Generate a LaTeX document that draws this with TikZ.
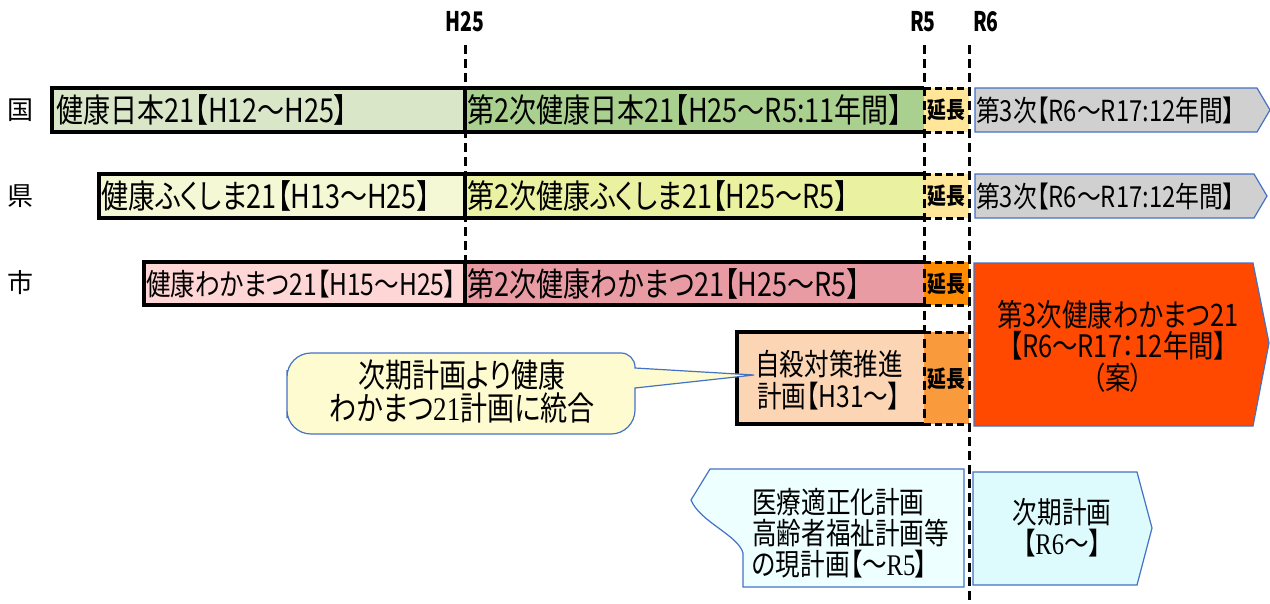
\documentclass[tikz,border=0pt]{standalone}
\usepackage{fontspec}
\setmainfont[RawFeature=+palt]{Noto Sans CJK JP}
\newfontfamily\latinserif{Liberation Serif}
\newcommand{\cnd}[1]{\scalebox{0.82}[1]{#1}}
\definecolor{kAa}{HTML}{D9E6C8}
\definecolor{kAb}{HTML}{A9D08E}
\definecolor{kBa}{HTML}{F5F8D4}
\definecolor{kBb}{HTML}{EAF1A0}
\definecolor{kCa}{HTML}{FFD6D6}
\definecolor{kCb}{HTML}{E99BA3}
\definecolor{extY}{HTML}{FFE699}
\definecolor{extO}{HTML}{FF8A00}
\definecolor{extP}{HTML}{F99B3C}
\definecolor{suic}{HTML}{FCD5B4}
\definecolor{grayA}{HTML}{D0D0D0}
\definecolor{redA}{HTML}{FF4800}
\definecolor{blueB}{HTML}{4472C4}
\definecolor{callY}{HTML}{FFFBD0}
\definecolor{cyanA}{HTML}{EEFFFF}
\definecolor{cyanB}{HTML}{DDFBFD}
\tikzset{
  vdash/.style={line width=3pt, dash pattern=on 9pt off 5pt},
  barline/.style={line width=3.5pt, line join=miter},
  extline/.style={line width=3pt, dash pattern=on 7pt off 4pt},
  thinblue/.style={draw=blueB, line width=1.2pt},
  fbar/.style={font=\fontsize{33}{36}\selectfont, inner sep=0pt},
  fbarS/.style={font=\fontsize{30}{34}\selectfont, inner sep=0pt},
  ftop/.style={font=\fontsize{27}{30}\selectfont\bfseries, inner sep=0pt},
  fext/.style={font=\fontsize{23}{24}\selectfont\bfseries, inner sep=0pt},
}
\begin{document}
\begin{tikzpicture}[x=1pt,y=-1pt]
\useasboundingbox (0,0) rectangle (1270,603);

% top labels
\node[ftop] (lH25) at (465,22) {\scalebox{0.72}[1]{H25}};
\node[ftop] (lR5) at (923,22) {\scalebox{0.72}[1]{R5}};
\node[ftop] (lR6) at (986,22) {\scalebox{0.72}[1]{R6}};

% row labels
\node[font=\fontsize{26}{28}\selectfont, inner sep=0pt] (rowA) at (20,110) {国};
\node[font=\fontsize{26}{28}\selectfont, inner sep=0pt] (rowB) at (20,196) {県};
\node[font=\fontsize{26}{28}\selectfont, inner sep=0pt] (rowC) at (20,283) {市};

% fills row A
\fill[kAa] (52,88) rectangle (465,132);
\fill[kAb] (465,88) rectangle (924,132);
\fill[extY] (924,88) rectangle (969,132);
% row B
\fill[kBa] (99,174) rectangle (465,218);
\fill[kBb] (465,174) rectangle (924,218);
\fill[extY] (924,174) rectangle (969,218);
% row C
\fill[kCa] (144,262) rectangle (465,305);
\fill[kCb] (465,262) rectangle (924,305);
\fill[extO] (924,262) rectangle (969,305);
% suicide plan
\fill[suic] (737,332) rectangle (924,424);
\fill[extP] (924,332) rectangle (969,424);

% vertical dashed lines
\coordinate (h25t) at (465,45); \coordinate (h25b) at (465,305);
\coordinate (r5t) at (924,45); \coordinate (r5b) at (924,424);
\coordinate (r6t) at (969,45); \coordinate (r6b) at (969,603);
\draw[vdash] (h25t) -- (h25b);
\draw[vdash] (r5t) -- (r5b);
\draw[vdash] (r6t) -- (r6b);

% bar borders
\draw[barline] (924,88) -- (52,88) -- (52,132) -- (924,132);
\draw[barline] (465,88) -- (465,132);
\draw[barline] (924,174) -- (99,174) -- (99,218) -- (924,218);
\draw[barline] (465,174) -- (465,218);
\draw[barline] (924,262) -- (144,262) -- (144,305) -- (924,305);
\draw[barline] (465,262) -- (465,305);
\draw[barline] (924,332) -- (737,332) -- (737,424) -- (924,424);
% extension borders
\draw[extline] (924,88) -- (969,88) (924,132) -- (969,132);
\draw[extline] (924,174) -- (969,174) (924,218) -- (969,218);
\draw[extline] (924,262) -- (969,262) (924,305) -- (969,305);
\draw[extline] (924,332) -- (969,332) (924,424) -- (969,424);

% bar texts
\node[fbar, anchor=west] (tA1) at (56,110) {\cnd{健康日本21【H12～H25】}};
\node[fbar, anchor=west] (tA2) at (467,110) {\cnd{第2次健康日本21【H25～R5:11年間】}};
\node[fbar, anchor=west] (tB1) at (101,196) {\cnd{健康ふくしま21【H13～H25】}};
\node[fbar, anchor=west] (tB2) at (467,196) {\cnd{第2次健康ふくしま21【H25～R5】}};
\node[fbarS, anchor=west] (tC1) at (146,284) {\cnd{健康わかまつ21【H15～H25】}};
\node[fbar, anchor=west] (tC2) at (467,284) {\cnd{第2次健康わかまつ21【H25～R5】}};

\node[fext] (eA) at (946.5,110) {\cnd{延長}};
\node[fext] (eB) at (946.5,196) {\cnd{延長}};
\node[fext] (eC) at (946.5,284) {\cnd{延長}};
\node[fext] (eD) at (946.5,379) {\cnd{延長}};

% suicide plan text
\node[font=\fontsize{30}{32}\selectfont, inner sep=0pt, align=center] (suicT) at (829,380) {\cnd{自殺対策推進}\\\cnd{計画【H31～】}};

% grey arrows
\draw[thinblue, fill=grayA] (975,88) -- (1257,88) -- (1270,110) -- (1257,132) -- (975,132) -- cycle;
\draw[thinblue, fill=grayA] (975,174) -- (1254,174) -- (1267,196) -- (1254,218) -- (975,218) -- cycle;
\node[font=\fontsize{29}{30}\selectfont, inner sep=0pt, anchor=west] (gA) at (976,110) {\cnd{第3次【R6～R17:12年間】}};
\node[font=\fontsize{29}{30}\selectfont, inner sep=0pt, anchor=west] (gB) at (976,196) {\cnd{第3次【R6～R17:12年間】}};

% red arrow
\draw[thinblue, fill=redA] (974,263) -- (1253,263) -- (1269,343) -- (1253,426) -- (974,426) -- cycle;
\node[font=\fontsize{31}{31.5}\selectfont, inner sep=0pt, align=center] (redT) at (1118,346) {\cnd{第3次健康わかまつ21}\\\cnd{【R6～R17：12年間】}\\\cnd{（案）}};

% callout
\draw[thinblue, fill=callY] (287,394) [rounded corners=24] -- (287,353) [rounded corners=14] -- (635,353) [sharp corners] -- (635,368) -- (754,375) -- (635,388) [rounded corners=24] -- (635,434) -- (287,434) -- cycle;
\node[font=\fontsize{33}{33}\selectfont, inner sep=0pt, align=center] (callT) at (462,392) {\cnd{次期計画より健康}\\\cnd{わかまつ{\latinserif 21}計画に統合}};

% pentagon (current plans)
\draw[thinblue, fill=cyanA] (710,469) -- (964,469) -- (964,587) -- (743,587) -- (743,553) .. controls (738,535) and (700,522) .. (691,500) -- cycle;
\node[font=\fontsize{30}{31}\selectfont, inner sep=0pt, align=left, anchor=west] (curT) at (752,533) {\cnd{医療適正化計画}\\\cnd{高齢者福祉計画等}\\\cnd{の現計画【～{\latinserif R5}】}};

% next plan arrow
\draw[thinblue, fill=cyanB] (973,472) -- (1137,472) -- (1152,528) -- (1137,585) -- (973,585) -- cycle;
\node[font=\fontsize{30}{31}\selectfont, inner sep=0pt, align=center] (nextT) at (1062,528) {\cnd{次期計画}\\\cnd{【{\latinserif R6}～】}};
\end{tikzpicture}
\end{document}
